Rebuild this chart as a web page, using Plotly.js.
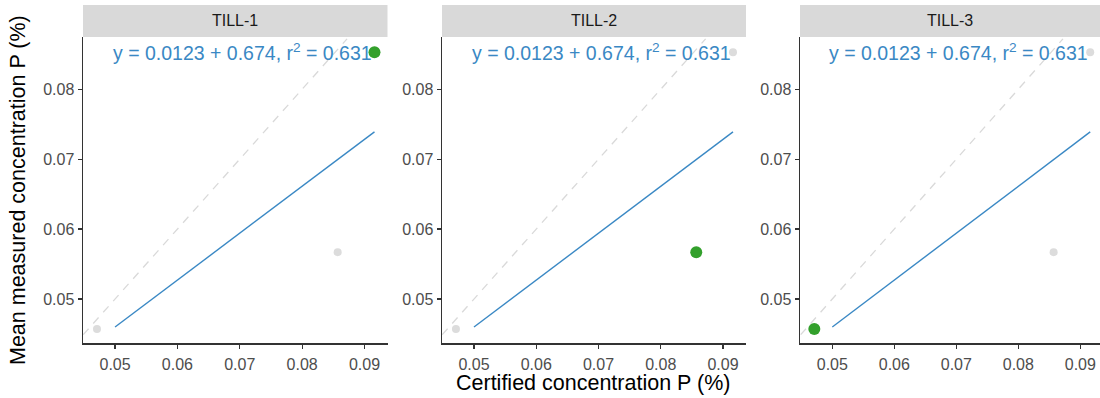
<!DOCTYPE html>
<html>
<head>
<meta charset="utf-8">
<script src="https://cdn.plot.ly/plotly-3.0.1.min.js"></script>
<style>html,body{margin:0;padding:0;background:#fff;}#chart{width:1100px;height:398px;}</style>
</head>
<body>
<div id="chart"></div>
<script>
// Data
const samples = ['TILL-1', 'TILL-2', 'TILL-3'];
const certified = [0.0916, 0.0857, 0.0471];
const measured = [0.0853, 0.0567, 0.0457];
const fitX = [0.0500, 0.0916];
const fitY = [0.0460, 0.0739];
const identityX = [0.0449, 0.0872];
const identityY = [0.0449, 0.0872];
const xTicks = [0.05, 0.06, 0.07, 0.08, 0.09];
const xTickLabels = ['0.05', '0.06', '0.07', '0.08', '0.09'];
const yTicks = [0.05, 0.06, 0.07, 0.08];
const yTickLabels = ['0.05', '0.06', '0.07', '0.08'];
const eqLabel = 'y = 0.0123 + 0.674, r<sup>2</sup> = 0.631';
const xTitle = 'Certified concentration P (%)';
const yTitle = 'Mean measured concentration P (%)';

const W = 1100, H = 398;
const blue = '#3a88c4';
const green = '#33a02c';
const grey = '#dcdcdc';
const FONT = 'Liberation Sans, Arial, sans-serif';

const panelsPx = [[83, 387.5], [442, 746], [800, 1100]];
const xRanges = [[0.04486, 0.09369], [0.04486, 0.09369], [0.04479, 0.09318]];
const yRange = [0.04371, 0.08747];
const plotTop = 37, plotBottom = 343, stripTop = 5;
const yDomain = [(H - plotBottom) / H, (H - plotTop) / H];

const traces = [];
const layout = {
  width: W, height: H,
  margin: {l: 0, r: 0, t: 0, b: 0},
  paper_bgcolor: '#fff', plot_bgcolor: '#fff',
  showlegend: false,
  font: {family: FONT},
  shapes: [], annotations: []
};

samples.forEach((s, i) => {
  const n = i === 0 ? '' : String(i + 1);
  const xa = 'x' + n, ya = 'y' + n;
  const dom = [panelsPx[i][0] / W, panelsPx[i][1] / W];
  layout['xaxis' + n] = {
    domain: dom, range: xRanges[i], anchor: ya,
    showgrid: false, zeroline: false,
    showline: true, linecolor: '#333', linewidth: 1.5,
    ticks: 'outside', ticklen: 4, tickwidth: 1.2, tickcolor: '#333',
    ticklabelstandoff: 2,
    tickvals: xTicks, ticktext: xTickLabels,
    tickfont: {size: 16, color: '#4d4d4d', family: FONT}
  };
  layout['yaxis' + n] = {
    domain: yDomain, range: yRange, anchor: xa,
    showgrid: false, zeroline: false,
    showline: true, linecolor: '#333', linewidth: 1.5,
    ticks: 'outside', ticklen: 4, tickwidth: 1.2, tickcolor: '#333',
    tickvals: yTicks, ticktext: yTickLabels,
    tickfont: {size: 16, color: '#4d4d4d', family: FONT}
  };
  // identity line
  traces.push({x: identityX, y: identityY, xaxis: xa, yaxis: ya, mode: 'lines',
    line: {color: '#d9d9d9', width: 1.3, dash: '8px,7px'}, hoverinfo: 'skip'});
  // background points
  traces.push({x: certified, y: measured, xaxis: xa, yaxis: ya, mode: 'markers',
    marker: {color: grey, size: 8}, cliponaxis: false, hoverinfo: 'skip'});
  // fit line
  traces.push({x: fitX, y: fitY, xaxis: xa, yaxis: ya, mode: 'lines',
    line: {color: blue, width: 1.4}, hoverinfo: 'skip'});
  // highlighted point
  traces.push({x: [certified[i]], y: [measured[i]], xaxis: xa, yaxis: ya, mode: 'markers',
    marker: {color: green, size: 12}, cliponaxis: false, hoverinfo: 'skip'});
  // strip
  layout.shapes.push({type: 'rect', xref: 'paper', yref: 'paper',
    x0: dom[0], x1: dom[1], y0: (H - plotTop) / H, y1: (H - stripTop) / H,
    fillcolor: '#d9d9d9', line: {width: 0}, layer: 'below'});
  layout.annotations.push({xref: 'paper', yref: 'paper',
    x: (dom[0] + dom[1]) / 2, y: (H - (plotTop + stripTop) / 2) / H,
    xanchor: 'center', yanchor: 'middle', showarrow: false,
    text: s, font: {size: 16, color: '#1a1a1a', family: FONT}});
  // equation label
  layout.annotations.push({xref: xa, yref: ya, x: Math.max(...certified), y: Math.max(...measured),
    xanchor: 'right', yanchor: 'middle', showarrow: false,
    text: eqLabel, font: {size: 19.5, color: blue, family: FONT}});
});

// axis titles
layout.annotations.push({xref: 'paper', yref: 'paper', x: 593 / W, y: 1 - 383 / H,
  xanchor: 'center', yanchor: 'middle', showarrow: false,
  text: xTitle, font: {size: 21.5, color: '#000', family: FONT}});
layout.annotations.push({xref: 'paper', yref: 'paper', x: 18 / W, y: 1 - 190 / H,
  xanchor: 'center', yanchor: 'middle', showarrow: false, textangle: -90,
  text: yTitle, font: {size: 21.5, color: '#000', family: FONT}});

Plotly.newPlot('chart', traces, layout, {staticPlot: true, displayModeBar: false});
</script>
</body>
</html>
